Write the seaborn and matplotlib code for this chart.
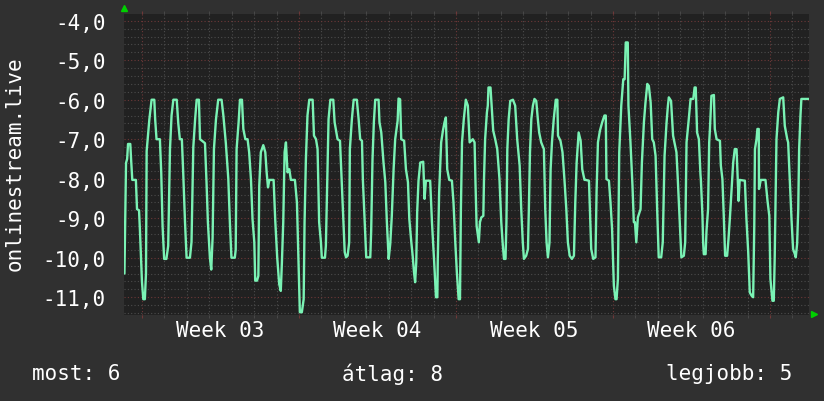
import matplotlib
matplotlib.use("Agg")
import matplotlib.pyplot as plt
import seaborn as sns
import pandas as pd
from matplotlib.ticker import FixedLocator, MultipleLocator

# ---- data: time in days from Monday of Week 03, value of the metric ----
days = [
    -0.78, -0.74, -0.71, -0.66, -0.62, -0.52, -0.48, -0.43, -0.27, -0.22, -0.13, -0.09,
    0.00, 0.06, 0.13, 0.18, 0.21, 0.33, 0.43, 0.55, 0.59, 0.65, 0.80, 0.86, 0.92, 0.99,
    1.09, 1.17, 1.25, 1.32, 1.40, 1.55, 1.62, 1.69, 1.78, 1.84, 1.92, 1.99,
    2.14, 2.21, 2.29, 2.37, 2.44, 2.54, 2.59, 2.81, 2.88, 2.94,
    3.03, 3.09, 3.15, 3.21, 3.30, 3.40, 3.55, 3.63, 3.74, 3.85, 3.92, 3.99,
    4.14, 4.18, 4.22, 4.31, 4.37, 4.46, 4.52, 4.61, 4.71, 4.78, 4.86, 4.93,
    5.01, 5.05, 5.13, 5.19, 5.23, 5.30, 5.41, 5.50, 5.56, 5.62, 5.68, 5.87, 5.94,
    6.03, 6.12, 6.19, 6.24, 6.30, 6.36, 6.42, 6.49, 6.57, 6.64, 6.82, 6.91, 6.97,
    7.04, 7.13, 7.21, 7.25, 7.31, 7.38, 7.46, 7.61, 7.67, 7.76, 7.83, 7.90, 7.98,
    8.02, 8.16, 8.20, 8.26, 8.32, 8.40, 8.53, 8.59, 8.72, 8.83, 8.89, 8.98,
    9.04, 9.10, 9.17, 9.24, 9.27, 9.36, 9.44, 9.58, 9.66, 9.73, 9.81, 9.85, 9.93,
    10.00, 10.18, 10.22, 10.28, 10.34, 10.40, 10.55, 10.59, 10.67, 10.77, 10.85, 10.92,
    11.00, 11.07, 11.14, 11.22, 11.29, 11.40, 11.44, 11.51, 11.56, 11.69, 11.77, 11.86, 11.92,
    12.01, 12.07, 12.13, 12.18, 12.23, 12.27, 12.33, 12.41, 12.54, 12.60, 12.66, 12.85, 12.93,
    13.03, 13.11, 13.17, 13.19, 13.25, 13.34, 13.42, 13.49, 13.55, 13.61, 13.70, 13.82, 13.89, 13.97,
    14.04, 14.12, 14.18, 14.22, 14.27, 14.35, 14.44, 14.53, 14.61, 14.75, 14.83, 14.87, 14.92, 14.98,
    15.02, 15.07, 15.13, 15.22, 15.25, 15.30, 15.38, 15.42, 15.45, 15.54, 15.60, 15.66, 15.75, 15.84, 15.94,
    16.02, 16.08, 16.14, 16.21, 16.25, 16.29, 16.35, 16.42, 16.54, 16.64, 16.73, 16.84, 16.91, 16.98,
    17.03, 17.13, 17.21, 17.25, 17.30, 17.36, 17.43, 17.50, 17.58, 17.65, 17.71, 17.80, 17.92, 17.98,
    18.04, 18.10, 18.17, 18.22, 18.28, 18.36, 18.42, 18.45, 18.52, 18.55, 18.66, 18.75, 18.84, 18.92, 18.99,
    19.07, 19.17, 19.26, 19.32, 19.38, 19.47, 19.56, 19.63, 19.73, 19.78, 19.93, 19.97,
    20.03, 20.12, 20.22, 20.27, 20.33, 20.42, 20.52, 20.62, 20.68, 20.71, 20.82, 20.89, 20.96,
    21.04, 21.11, 21.16, 21.22, 21.28, 21.37, 21.46, 21.52, 21.57, 21.66, 21.69, 21.78, 21.87, 21.93, 21.98,
    22.04, 22.11, 22.23, 22.29, 22.38, 22.45, 22.53, 22.60, 22.68, 22.75, 22.82, 22.90, 22.97,
    23.04, 23.15, 23.22, 23.30, 23.39, 23.45, 23.49, 23.59, 23.68, 23.74, 23.83, 23.89, 23.98,
    24.05, 24.16, 24.22, 24.28, 24.38, 24.46, 24.58, 24.64, 24.69, 24.75, 24.83, 24.90, 24.92, 24.99,
    25.02, 25.05, 25.13, 25.17, 25.24, 25.29, 25.32, 25.39, 25.50, 25.54, 25.62, 25.77, 25.81, 25.88, 25.94,
    26.00, 26.09, 26.15, 26.21, 26.29, 26.36, 26.43, 26.51, 26.55, 26.60, 26.65, 26.88, 26.95,
    27.03, 27.10, 27.18, 27.25, 27.30, 27.33, 27.40, 27.44, 27.50, 27.51, 27.59, 27.80, 27.89, 27.97,
    28.02, 28.11, 28.17, 28.21, 28.29, 28.37, 28.44, 28.59, 28.66, 28.77, 28.81, 28.89, 28.96,
    29.03, 29.11, 29.15, 29.21, 29.26, 29.30, 29.36, 29.40, 29.74,
]
values = [
    -10.4, -8.8, -7.6, -7.5, -7.12, -7.12, -7.55, -8.03, -8.03, -8.77, -8.8, -9.3,
    -10.6, -11.05, -11.05, -10.4, -7.3, -6.5, -6.0, -6.0, -6.5, -7.0, -7.0, -7.85, -9.2, -10.03,
    -10.03, -9.7, -7.25, -6.4, -6.0, -6.0, -6.6, -7.0, -7.0, -7.85, -9.1, -10.0,
    -10.0, -9.6, -7.2, -6.5, -6.0, -6.0, -7.0, -7.1, -8.1, -9.1,
    -10.0, -10.3, -9.5, -7.25, -6.5, -6.0, -6.0, -6.4, -7.1, -8.0, -9.1, -10.0,
    -10.0, -9.8, -7.25, -6.57, -6.0, -6.0, -6.74, -7.0, -7.0, -7.33, -8.01, -9.02,
    -9.61, -10.58, -10.58, -10.46, -8.18, -7.33, -7.15, -7.33, -7.84, -8.22, -8.03, -8.03, -9.02,
    -9.99, -10.67, -10.84, -10.12, -9.1, -7.33, -7.08, -7.84, -7.76, -8.03, -8.03, -8.6, -9.86,
    -11.38, -11.38, -11.05, -9.1, -7.5, -6.4, -6.0, -6.0, -6.91, -7.0, -7.25, -9.1, -9.61,
    -10.0, -10.0, -9.7, -8.09, -6.49, -6.0, -6.0, -6.57, -7.0, -7.04, -7.84, -9.1,
    -9.86, -9.99, -9.95, -9.61, -7.25, -6.49, -6.0, -6.0, -6.49, -7.0, -7.04, -8.03, -9.1,
    -9.99, -9.99, -9.32, -7.5, -6.57, -6.0, -6.0, -6.57, -6.83, -7.59, -8.09, -9.1,
    -10.03, -9.65, -8.94, -7.76, -7.0, -6.53, -5.97, -5.99, -7.0, -7.04, -7.76, -8.09, -9.02,
    -9.61, -9.95, -10.37, -10.62, -10.12, -8.85, -8.05, -7.59, -7.57, -8.51, -8.05, -8.05, -9.1,
    -10.12, -11.0, -11.0, -10.03, -8.35, -7.08, -6.78, -6.57, -6.45, -7.76, -8.03, -8.05, -8.6, -9.61,
    -10.37, -11.05, -11.05, -8.77, -7.08, -6.49, -6.0, -6.15, -7.08, -7.0, -7.08, -8.09, -9.19, -9.44,
    -9.61, -9.1, -8.98, -8.94, -8.01, -7.0, -6.32, -6.15, -5.69, -5.69, -6.24, -6.78, -7.0, -7.25, -8.01,
    -9.1, -9.61, -10.03, -10.03, -9.1, -7.25, -6.49, -6.03, -6.0, -6.15, -7.0, -7.67, -8.77, -9.61,
    -10.03, -9.95, -9.78, -8.77, -7.33, -6.49, -6.15, -5.98, -6.03, -6.49, -6.83, -7.08, -7.25, -8.77,
    -9.61, -9.99, -9.61, -7.76, -7.08, -6.49, -6.15, -6.0, -6.0, -6.91, -7.04, -7.33, -8.05, -8.77, -9.61,
    -9.95, -10.03, -9.95, -8.6, -7.59, -6.83, -7.04, -7.76, -8.03, -8.03, -8.05, -8.77,
    -9.78, -10.03, -9.99, -8.3, -7.08, -6.78, -6.57, -6.4, -6.4, -8.01, -8.05, -8.6, -9.27,
    -10.71, -11.05, -11.05, -10.54, -7.33, -6.15, -5.48, -5.48, -4.55, -4.55, -6.15, -7.08, -8.18, -9.1, -9.1,
    -9.61, -8.98, -8.77, -7.59, -6.57, -6.07, -5.6, -5.65, -6.07, -7.0, -7.08, -7.42, -8.77,
    -9.99, -9.99, -9.61, -7.42, -6.57, -6.15, -5.94, -6.03, -6.91, -7.08, -7.33, -8.01, -9.1,
    -9.99, -9.95, -9.61, -7.08, -6.49, -5.98, -5.98, -5.69, -5.69, -6.83, -7.0, -7.88, -8.03, -8.94,
    -9.61, -9.91, -9.91, -9.32, -8.77, -7.08, -6.78, -5.9, -5.88, -6.74, -7.0, -7.04, -7.67, -8.01, -8.94,
    -9.95, -9.95, -9.53, -9.02, -8.26, -7.59, -7.25, -7.25, -7.84, -8.56, -8.03, -8.05, -9.02,
    -9.86, -10.88, -10.96, -11.0, -9.19, -7.25, -7.0, -6.74, -6.74, -8.26, -8.03, -8.03, -8.56, -8.94,
    -10.54, -11.09, -11.09, -10.03, -7.0, -6.32, -5.98, -5.94, -6.66, -7.0, -7.08, -8.09, -9.02,
    -9.78, -9.91, -9.99, -9.65, -8.77, -7.25, -6.4, -5.98, -5.98,
]

week_starts = [0, 7, 14, 21, 28]
week_centers = [3.5, 10.5, 17.5, 24.5]
week_labels = ["Week 03", "Week 04", "Week 05", "Week 06"]
y_ticks = [-4, -5, -6, -7, -8, -9, -10, -11]
y_tick_labels = ["-4,0", "-5,0", "-6,0", "-7,0", "-8,0", "-9,0", "-10,0", "-11,0"]
y_label = "onlinestream.live"
legend_texts = ["most: 6", "átlag: 8", "legjobb: 5"]

# ---- style ----
FIG_BG = "#303030"
PLOT_BG = "#212121"
LINE = "#7af2b4"
MINOR = "#4c4c4c"
MAJOR = "#6e3838"
ARROW = "#00d000"
FS = 15

sns.set_style("dark")
plt.rcParams["font.family"] = ["DejaVu Sans Mono", "DejaVu Sans"]

W, H = 824, 402
fig = plt.figure(figsize=(W / 100, H / 100), dpi=100, facecolor=FIG_BG)
ax = fig.add_axes([124 / W, (H - 316) / H, 685 / W, 301 / H])
ax.set_facecolor(PLOT_BG)

df = pd.DataFrame({"day": days, "value": values})
sns.lineplot(data=df, x="day", y="value", ax=ax, color=LINE, linewidth=1.7,
             sort=False, estimator=None, zorder=3)

ax.set_xlim(-0.80, 29.74)
ax.set_ylim(-11.45, -3.83)

# x grid: weekly major (red), daily minor (grey)
ax.xaxis.set_major_locator(FixedLocator(week_starts))
ax.xaxis.set_minor_locator(MultipleLocator(1))
ax.set_xticklabels([])
ax.yaxis.set_major_locator(FixedLocator(y_ticks))
ax.yaxis.set_minor_locator(MultipleLocator(0.2))
ax.set_yticklabels(y_tick_labels)

ax.grid(True, which="major", color=MAJOR, linestyle=(0, (1, 2)), linewidth=0.8)
ax.grid(True, which="minor", color=MINOR, linestyle=(0, (1, 2)), linewidth=0.8)
ax.set_axisbelow(True)

ax.tick_params(axis="x", which="major", length=2.5, color=MAJOR, top=True, bottom=True, direction="out")
ax.tick_params(axis="x", which="minor", length=2.5, color=MINOR, top=True, bottom=True, direction="out")
ax.tick_params(axis="y", which="both", length=0, pad=13, labelsize=FS, labelcolor="white")
for s in ax.spines.values():
    s.set_visible(False)
ax.set_xlabel("")
ax.set_ylabel("")

for xc, lab in zip(week_centers, week_labels):
    ax.text(xc, (316 - 331) / 301, lab, transform=ax.get_xaxis_transform(),
            ha="center", va="center", color="white", fontsize=FS)

fig.text(15 / W, 1 - 164 / H, y_label, rotation=90, ha="center", va="center",
         color="white", fontsize=FS)

fig.text(32 / W, 1 - 374 / H, legend_texts[0], ha="left", va="center", color="white", fontsize=FS)
fig.text(392 / W, 1 - 374 / H, legend_texts[1], ha="center", va="center", color="white", fontsize=FS)
fig.text(792 / W, 1 - 374 / H, legend_texts[2], ha="right", va="center", color="white", fontsize=FS)

# axis arrows
ax.plot([0], [1.02], marker="^", color=ARROW, markersize=5, transform=ax.transAxes, clip_on=False)
ax.plot([1.007], [0.003], marker=">", color=ARROW, markersize=5, transform=ax.transAxes, clip_on=False)

fig.savefig("out.png", dpi=100, facecolor=FIG_BG)
